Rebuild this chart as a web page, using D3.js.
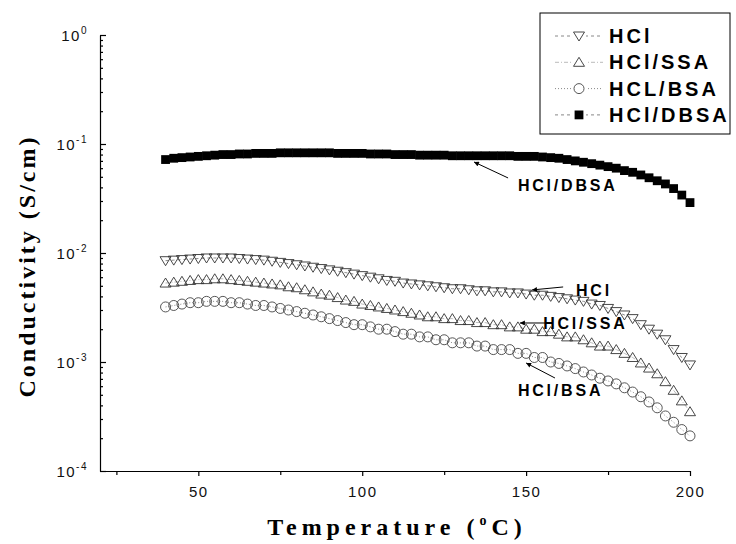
<!DOCTYPE html>
<html><head><meta charset="utf-8">
<script src="https://cdn.jsdelivr.net/npm/d3@7"></script>
<style>body{margin:0;background:#fff}</style>
</head><body><svg id="c" width="736" height="544"></svg>
<script>
const temps = [40,42.5,45,47.5,50,52.5,55,57.5,60,62.5,65,67.5,70,72.5,75,77.5,80,82.5,85,87.5,90,92.5,95,97.5,100,102.5,105,107.5,110,112.5,115,117.5,120,122.5,125,127.5,130,132.5,135,137.5,140,142.5,145,147.5,150,152.5,155,157.5,160,162.5,165,167.5,170,172.5,175,177.5,180,182.5,185,187.5,190,192.5,195,197.5,200];
const hcl = [0.0085,0.0086,0.0087,0.0088,0.0089,0.0090,0.0090,0.0090,0.0090,0.0089,0.0088,0.0087,0.0086,0.0084,0.0082,0.0080,0.0078,0.0076,0.0074,0.0072,0.0070,0.0068,0.0066,0.0064,0.0062,0.0060,0.0058,0.0056,0.0055,0.0053,0.0052,0.0051,0.0050,0.0049,0.0048,0.0047,0.0047,0.0046,0.0045,0.0045,0.0044,0.0044,0.0043,0.0043,0.0042,0.0041,0.0041,0.0040,0.0039,0.0038,0.0037,0.0036,0.0034,0.0033,0.0031,0.0029,0.0027,0.0025,0.0022,0.0020,0.0018,0.0016,0.0013,0.0011,0.00094];
const hclSSA = [0.0053,0.0054,0.0055,0.0056,0.0057,0.0057,0.0058,0.0058,0.0057,0.0056,0.0055,0.0054,0.0053,0.0052,0.0051,0.0049,0.0048,0.0046,0.0044,0.0042,0.0041,0.0039,0.0037,0.0036,0.0034,0.0033,0.0032,0.0031,0.0030,0.0029,0.0028,0.0027,0.0026,0.0026,0.0025,0.0025,0.0024,0.0024,0.0023,0.0023,0.0022,0.0022,0.0021,0.0021,0.0020,0.0020,0.0019,0.0019,0.0018,0.0017,0.0017,0.0016,0.0015,0.0014,0.0014,0.0013,0.0012,0.0011,0.00098,0.00088,0.00078,0.00066,0.00055,0.00044,0.00035];
const hclBSA = [0.0032,0.0033,0.0034,0.0035,0.0035,0.0036,0.0036,0.0036,0.0035,0.0035,0.0034,0.0033,0.0033,0.0032,0.0031,0.0030,0.0029,0.0028,0.0027,0.0026,0.0025,0.0024,0.0023,0.0022,0.0022,0.0021,0.0020,0.0020,0.0019,0.0018,0.0018,0.0017,0.0017,0.0016,0.0016,0.0015,0.0015,0.0015,0.0014,0.0014,0.0013,0.0013,0.0013,0.0012,0.0012,0.0011,0.0011,0.0010,0.00097,0.00092,0.00087,0.00081,0.00076,0.00071,0.00067,0.00063,0.00058,0.00053,0.00048,0.00043,0.00038,0.00032,0.00028,0.00024,0.00021];
const hclDBSA = [0.072,0.074,0.075,0.076,0.077,0.078,0.079,0.080,0.080,0.081,0.081,0.082,0.082,0.082,0.083,0.083,0.083,0.083,0.083,0.083,0.083,0.082,0.082,0.082,0.082,0.081,0.081,0.081,0.080,0.080,0.080,0.079,0.079,0.079,0.079,0.078,0.078,0.078,0.078,0.078,0.078,0.078,0.078,0.077,0.077,0.077,0.076,0.075,0.074,0.072,0.070,0.068,0.066,0.064,0.062,0.060,0.057,0.055,0.052,0.049,0.046,0.043,0.039,0.034,0.029];
const seriesNames = ["HCl","HCl/SSA","HCL/BSA","HCl/DBSA"];
const yTickExps = [0,-1,-2,-3,-4];
const xTicks = [50,100,150,200];
const xMinorTicks = [25,75,125,175];
const annotations = [
  {text:"HCl/DBSA", tip:[134.1,0.0684], tail:[144.5,0.0488], label:[147.5,0.037]},
  {text:"HCl", tip:[151.8,0.00458], tail:[161.3,0.00488], label:[165.2,0.00403]},
  {text:"HCl/SSA", tip:[148.1,0.00228], tail:[155.8,0.00228], label:[155.2,0.00201]},
  {text:"HCl/BSA", tip:[150,0.00098], tail:[158.8,0.000713], label:[147.5,0.000488]}
];

const svg = d3.select("#c");
const x = d3.scaleLinear().domain([20,200]).range([100,690]);
const y = d3.scaleLog().domain([1e-4,1]).range([471,35]);

svg.append("defs").append("marker").attr("id","ah").attr("viewBox","0 0 10 10")
  .attr("refX",10).attr("refY",5).attr("markerWidth",7).attr("markerHeight",5)
  .attr("markerUnits","userSpaceOnUse").attr("orient","auto")
  .append("path").attr("d","M0,0 L10,5 L0,10 Z").attr("fill","#000");

// y axis
const majorY = yTickExps.map(e=>Math.pow(10,e));
const minorY = [];
yTickExps.slice(1).forEach(e=>{ for(let k=2;k<=9;k++) minorY.push(k*Math.pow(10,e)); });
const gy = svg.append("g").attr("transform","translate(100,0)");
gy.call(d3.axisRight(y).tickValues(majorY).tickSize(6).tickSizeOuter(0).tickFormat(""));
const gy2 = svg.append("g").attr("transform","translate(100,0)");
gy2.call(d3.axisRight(y).tickValues(minorY).tickSize(3).tickSizeOuter(0).tickFormat(""));
gy2.select(".domain").remove();
[gy,gy2].forEach(g=>{g.selectAll("line,path").attr("stroke","#000").attr("stroke-width",1.2);});

const yl = svg.append("g").attr("font-family","Liberation Sans, Arial, sans-serif").attr("font-size",15).attr("fill","#111");
yTickExps.forEach(e=>{
  const t = yl.append("text").attr("x",88).attr("y",y(Math.pow(10,e))+6).attr("text-anchor","end").attr("letter-spacing",1.5);
  t.append("tspan").text("10");
  t.append("tspan").attr("dy",-7).attr("font-size",10).text(String(e));
});

// x axis
const gx = svg.append("g").attr("transform","translate(0,471)");
gx.call(d3.axisBottom(x).tickValues(xTicks).tickSize(5).tickSizeOuter(0).tickPadding(10).tickFormat(d3.format("d")));
const gx2 = svg.append("g").attr("transform","translate(0,471)");
gx2.call(d3.axisBottom(x).tickValues(xMinorTicks).tickSize(4).tickSizeOuter(0).tickFormat(""));
gx2.select(".domain").remove();
[gx,gx2].forEach(g=>{g.selectAll("line,path").attr("stroke","#000").attr("stroke-width",1.2);});
gx.selectAll("text").attr("font-family","Liberation Sans, Arial, sans-serif").attr("font-size",15).attr("fill","#111").attr("letter-spacing",1.5);

// titles
svg.append("text").attr("x",397).attr("y",535).attr("text-anchor","middle")
  .attr("font-family","Liberation Serif, Times New Roman, serif").attr("font-weight","bold").attr("font-size",24)
  .attr("letter-spacing",5)
  .call(t=>{t.append("tspan").text("Temperature (");t.append("tspan").attr("dy",-10).attr("font-size",14).text("o");t.append("tspan").attr("dy",10).text("C)");});
svg.append("text").attr("transform","translate(35,266) rotate(-90)").attr("text-anchor","middle")
  .attr("font-family","Liberation Serif, Times New Roman, serif").attr("font-weight","bold").attr("font-size",24)
  .attr("letter-spacing",3).text("Conductivity (S/cm)");

// series
const series = [
  {name:seriesNames[0], vals:hcl, sym:"down", dash:"3,3", lc:"#888"},
  {name:seriesNames[1], vals:hclSSA, sym:"up", dash:"4,2,1,2", lc:"#bbb"},
  {name:seriesNames[2], vals:hclBSA, sym:"circle", dash:"1,2", lc:"#888"},
  {name:seriesNames[3], vals:hclDBSA, sym:"square", dash:"3,3", lc:"#888"}
];
const symPath = {
  down:"M-5.5,-4 L5.5,-4 L0,5 Z",
  up:"M-5.5,4 L5.5,4 L0,-5 Z"
};
function drawSym(g, s){
  if(s.sym==="circle") g.append("circle").attr("r",5).attr("fill","none").attr("stroke","#444").attr("stroke-width",0.9);
  else if(s.sym==="square") g.append("rect").attr("x",-4.4).attr("y",-4.4).attr("width",8.8).attr("height",8.8).attr("fill","#000");
  else g.append("path").attr("d",symPath[s.sym]).attr("fill","none").attr("stroke","#333").attr("stroke-width",0.9);
}
const line = d3.line().x(d=>x(d[0])).y(d=>y(d[1]));
series.forEach(s=>{
  const pts = temps.map((t,i)=>[t,s.vals[i]]);
  svg.append("path").attr("d",line(pts)).attr("fill","none").attr("stroke",s.lc).attr("stroke-width",1).attr("stroke-dasharray",s.dash);
  const g = svg.append("g");
  pts.forEach(p=>{ drawSym(g.append("g").attr("transform",`translate(${x(p[0])},${y(p[1])})`), s); });
});

// annotations
const ag = svg.append("g");
annotations.forEach(a=>{
  ag.append("line").attr("x1",x(a.tail[0])).attr("y1",y(a.tail[1])).attr("x2",x(a.tip[0])).attr("y2",y(a.tip[1]))
    .attr("stroke","#000").attr("stroke-width",1).attr("marker-end","url(#ah)");
  ag.append("text").attr("x",x(a.label[0])).attr("y",y(a.label[1]))
    .attr("font-family","Liberation Sans, Arial, sans-serif").attr("font-weight","bold").attr("font-size",16)
    .attr("letter-spacing",2.8).attr("fill","#000").text(a.text);
});

// legend
const lg = svg.append("g");
lg.append("rect").attr("x",540).attr("y",13).attr("width",190).attr("height",121).attr("fill","#fff").attr("stroke","#000").attr("stroke-width",1);
series.forEach((s,i)=>{
  const cy = 36 + i*26.3;
  lg.append("line").attr("x1",555).attr("x2",603).attr("y1",cy).attr("y2",cy).attr("stroke",s.lc).attr("stroke-width",1).attr("stroke-dasharray",s.dash);
  const sg = lg.append("g").attr("transform",`translate(579,${cy})`);
  sg.append("rect").attr("x",-7).attr("y",-7).attr("width",14).attr("height",14).attr("fill","#fff");
  drawSym(sg, s);
  lg.append("text").attr("x",609).attr("y",cy+7).attr("font-family","Liberation Sans, Arial, sans-serif")
    .attr("font-weight","bold").attr("font-size",20).attr("letter-spacing",3).text(s.name);
});
</script></body></html>
